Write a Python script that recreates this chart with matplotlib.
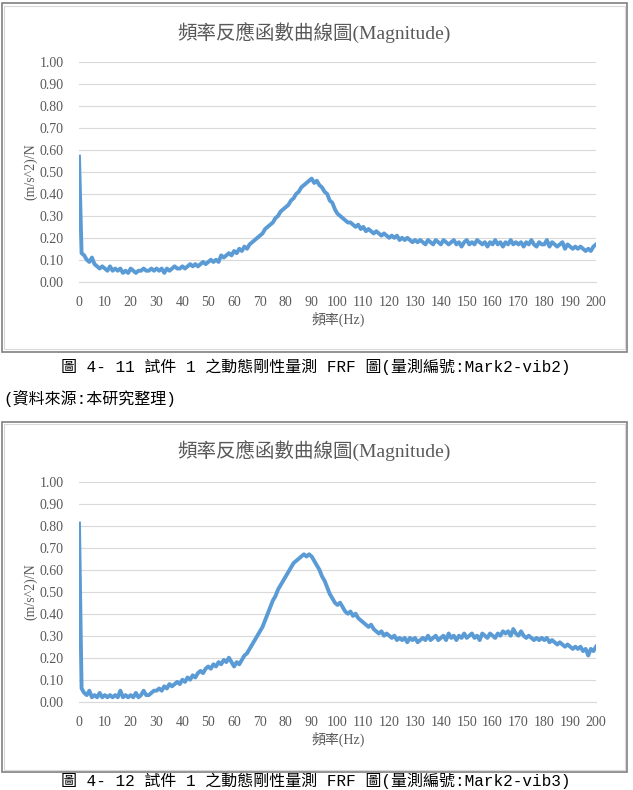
import matplotlib
matplotlib.use("Agg")
import matplotlib.pyplot as plt
from matplotlib.patches import Rectangle
import numpy as np

# frequency axis (Hz), one reading per Hz
freq = list(range(0, 201))

# Mark2-vib2 magnitude, (m/s^2)/N
mag_vib2 = [
    0.57, 0.13, 0.12, 0.10, 0.09, 0.11, 0.08, 0.07, 0.06, 0.07,
    0.06, 0.05, 0.07, 0.05, 0.06, 0.05, 0.06, 0.04, 0.05, 0.04,
    0.06, 0.05, 0.04, 0.05, 0.05, 0.06, 0.05, 0.05, 0.06, 0.05,
    0.06, 0.05, 0.06, 0.04, 0.06, 0.05, 0.06, 0.07, 0.06, 0.06,
    0.07, 0.06, 0.07, 0.08, 0.07, 0.08, 0.07, 0.08, 0.09, 0.08,
    0.09, 0.10, 0.09, 0.10, 0.09, 0.12, 0.11, 0.12, 0.13, 0.12,
    0.14, 0.13, 0.15, 0.14, 0.16, 0.15, 0.17, 0.18, 0.19, 0.20,
    0.21, 0.22, 0.24, 0.25, 0.26, 0.27, 0.29, 0.30, 0.32, 0.33,
    0.34, 0.35, 0.37, 0.38, 0.40, 0.41, 0.43, 0.44, 0.45, 0.46,
    0.47, 0.45, 0.46, 0.44, 0.43, 0.41, 0.40, 0.37, 0.36, 0.33,
    0.31, 0.30, 0.29, 0.28, 0.27, 0.27, 0.26, 0.25, 0.26, 0.24,
    0.25, 0.23, 0.24, 0.23, 0.22, 0.23, 0.22, 0.21, 0.22, 0.21,
    0.20, 0.21, 0.20, 0.21, 0.19, 0.20, 0.19, 0.20, 0.19, 0.18,
    0.19, 0.18, 0.19, 0.18, 0.17, 0.19, 0.18, 0.17, 0.19, 0.18,
    0.17, 0.19, 0.18, 0.17, 0.18, 0.19, 0.17, 0.18, 0.16, 0.18,
    0.19, 0.17, 0.18, 0.17, 0.19, 0.18, 0.17, 0.18, 0.16, 0.18,
    0.17, 0.19, 0.17, 0.18, 0.16, 0.18, 0.17, 0.19, 0.17, 0.18,
    0.17, 0.18, 0.16, 0.18, 0.17, 0.19, 0.17, 0.16, 0.18, 0.17,
    0.17, 0.19, 0.16, 0.18, 0.17, 0.16, 0.17, 0.18, 0.15, 0.17,
    0.16, 0.15, 0.16, 0.15, 0.16, 0.15, 0.14, 0.15, 0.14, 0.16,
    0.17,
]

# Mark2-vib3 magnitude, (m/s^2)/N
mag_vib3 = [
    0.81, 0.06, 0.04, 0.03, 0.05, 0.02, 0.03, 0.02, 0.04, 0.02,
    0.03, 0.02, 0.03, 0.02, 0.03, 0.02, 0.05, 0.02, 0.03, 0.02,
    0.03, 0.02, 0.04, 0.02, 0.03, 0.05, 0.03, 0.03, 0.04, 0.05,
    0.05, 0.06, 0.05, 0.07, 0.06, 0.08, 0.07, 0.08, 0.09, 0.08,
    0.10, 0.09, 0.11, 0.10, 0.12, 0.11, 0.13, 0.14, 0.13, 0.15,
    0.16, 0.15, 0.17, 0.16, 0.18, 0.17, 0.19, 0.18, 0.20, 0.18,
    0.16, 0.18, 0.17, 0.19, 0.21, 0.22, 0.24, 0.26, 0.28, 0.30,
    0.32, 0.34, 0.37, 0.40, 0.43, 0.46, 0.48, 0.51, 0.53, 0.55,
    0.57, 0.59, 0.61, 0.63, 0.64, 0.65, 0.66, 0.67, 0.66, 0.67,
    0.66, 0.64, 0.62, 0.60, 0.57, 0.55, 0.52, 0.49, 0.47, 0.45,
    0.44, 0.45, 0.43, 0.41, 0.40, 0.41, 0.39, 0.40, 0.38, 0.37,
    0.36, 0.35, 0.34, 0.35, 0.33, 0.32, 0.31, 0.32, 0.30, 0.31,
    0.30, 0.29, 0.30, 0.28, 0.29, 0.28, 0.29, 0.27, 0.29, 0.28,
    0.29, 0.27, 0.28, 0.29, 0.28, 0.30, 0.28, 0.29, 0.30, 0.28,
    0.29, 0.30, 0.28, 0.31, 0.29, 0.30, 0.28, 0.30, 0.29, 0.31,
    0.29, 0.30, 0.31, 0.29, 0.30, 0.28, 0.31, 0.30, 0.29, 0.31,
    0.30, 0.29, 0.31, 0.30, 0.32, 0.31, 0.32, 0.30, 0.33, 0.31,
    0.30, 0.32, 0.30, 0.29, 0.30, 0.29, 0.28, 0.29, 0.28, 0.29,
    0.28, 0.29, 0.27, 0.28, 0.27, 0.26, 0.27, 0.26, 0.25, 0.26,
    0.25, 0.24, 0.25, 0.24, 0.25, 0.23, 0.24, 0.21, 0.24, 0.23,
    0.25,
]

chart_title = "頻率反應函數曲線圖(Magnitude)"
x_label = "頻率(Hz)"
y_label = "(m/s^2)/N"
x_ticks = list(range(0, 201, 10))
y_ticks = [i / 10 for i in range(0, 11)]
caption1 = "圖 4- 11 試件 1 之動態剛性量測 FRF 圖(量測編號:Mark2-vib2)"
source1 = "(資料來源:本研究整理)"
caption2 = "圖 4- 12 試件 1 之動態剛性量測 FRF 圖(量測編號:Mark2-vib3)"

W, H = 633, 790
serif = ["Liberation Serif", "Noto Sans CJK TC"]
mono = ["Liberation Mono", "Noto Sans CJK TC"]
gray = "#595959"
blue = "#5B9BD5"

fig = plt.figure(figsize=(W / 100, H / 100), dpi=100)
fig.patch.set_facecolor("white")


def fx(px):
    return px / W


def fy(py):
    return 1 - py / H


def chart(top, bottom, box_top, box_bottom, values):
    # frame around the chart (picture border + chart area border)
    fig.patches.append(Rectangle((fx(1.5), fy(box_bottom)), fx(625.5), (box_bottom - box_top) / H,
                                 transform=fig.transFigure, fill=False, ec="#808080", lw=1.2))
    fig.patches.append(Rectangle((fx(4), fy(box_bottom - 2.5)), fx(620.5), (box_bottom - box_top - 5) / H,
                                 transform=fig.transFigure, fill=False, ec="#d9d9d9", lw=0.8))

    ax = fig.add_axes([fx(79), fy(bottom), fx(596) - fx(79), (bottom - top) / H])
    ax.plot(freq, values, color=blue, lw=2.8, solid_joinstyle="round")
    ax.set_xlim(0, 200)
    ax.set_ylim(0, 1.0)
    ax.set_xticks(x_ticks)
    ax.set_yticks(y_ticks)
    ax.set_xticklabels([str(t) for t in x_ticks], family=serif, fontsize=10, color=gray)
    ax.set_yticklabels(["%.2f" % t for t in y_ticks], family=serif, fontsize=10, color=gray)
    ax.tick_params(length=0, pad=10)
    ax.tick_params(axis="y", pad=11)
    ax.grid(axis="y", color="#d9d9d9", lw=0.8)
    ax.set_axisbelow(True)
    for s in ax.spines.values():
        s.set_visible(False)
    ax.spines["bottom"].set_visible(True)
    ax.spines["bottom"].set_color("#d9d9d9")
    ax.spines["bottom"].set_linewidth(0.8)

    fig.text(fx(314), fy(box_top + 29), chart_title, family=serif, fontsize=14,
             color=gray, ha="center", va="center")
    fig.text(fx(338), fy(bottom + 38), x_label, family=serif, fontsize=10,
             color=gray, ha="center", va="center")
    fig.text(fx(31), fy((top + bottom) / 2), y_label, family=serif, fontsize=10,
             color=gray, ha="center", va="center", rotation=90)
    return ax


chart(62.3, 281.7, 3.3, 351.7, mag_vib2)
chart(481.7, 701.7, 421.7, 772, mag_vib3)

fig.text(fx(316), fy(367), caption1, family=mono, fontsize=11.5, color="black",
         ha="center", va="center")
fig.text(fx(3), fy(398), source1, family=mono, fontsize=11.5, color="black",
         ha="left", va="center")
fig.text(fx(316), fy(781), caption2, family=mono, fontsize=11.5, color="black",
         ha="center", va="center")

fig.savefig("out.png", dpi=100)
